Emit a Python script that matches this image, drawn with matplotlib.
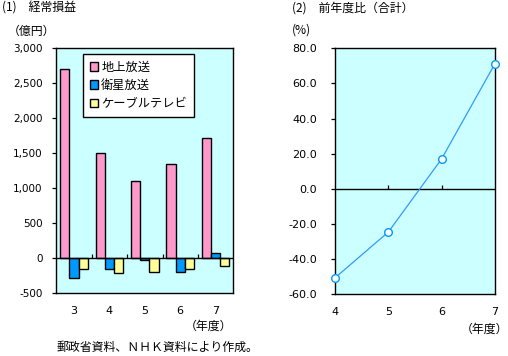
import numpy as np
import matplotlib
matplotlib.use("Agg")
import matplotlib.pyplot as plt

plt.rcParams['font.family'] = ['Noto Sans CJK JP', 'DejaVu Sans']

# (1) 経常損益（億円）
nendo = ["3", "4", "5", "6", "7"]
chijou = [2700, 1500, 1100, 1340, 1710]
eisei = [-280, -160, -30, -200, 70]
cable = [-160, -220, -200, -160, -120]
series_names = ["地上放送", "衛星放送", "ケーブルテレビ"]
y1_ticks = [-500, 0, 500, 1000, 1500, 2000, 2500, 3000]

# (2) 前年度比（合計, %）
nendo2 = [4, 5, 6, 7]
zennendo = [-50.5, -24.5, 17.0, 71.0]
y2_ticks = [-60, -40, -20, 0, 20, 40, 60, 80]

colors = ["#ff99cc", "#0099ff", "#ffff99"]
bg = "#ccffff"
num_font = "DejaVu Sans"
jp_size = 8.6

fig = plt.figure(figsize=(5.08, 3.56), dpi=100)

# ---- 左：棒グラフ ----
ax1 = fig.add_axes([56.3 / 508, 1 - 293 / 356, 177 / 508, 245 / 356])
ax1.set_facecolor(bg)
x = np.arange(len(nendo))
w = 0.26
for i, (vals, name) in enumerate(zip([chijou, eisei, cable], series_names)):
    ax1.bar(x + (i - 1) * w, vals, width=w, color=colors[i], edgecolor="black",
            linewidth=1.0, label=name)
ax1.axhline(0, color="black", linewidth=1.0)
# 区切りの目盛り（ゼロ線上）
ax1.plot(x[:-1] + 0.5, np.zeros(len(x) - 1), ls="none", marker=2, ms=3,
         mew=0.9, color="black")
ax1.set_xlim(-0.5, len(nendo) - 0.5)
ax1.set_ylim(-500, 3000)
ax1.set_yticks(y1_ticks)
ax1.set_yticklabels([f"{v:,}" for v in y1_ticks], fontsize=7.5, family=num_font)
ax1.set_xticks(x)
ax1.set_xticklabels(nendo, fontsize=8, family=num_font)
ax1.tick_params(axis="x", length=0, pad=9)
ax1.tick_params(axis="y", length=3, width=0.9, pad=7)
for s in ax1.spines.values():
    s.set_linewidth(1.0)
leg = ax1.legend(loc="upper left", bbox_to_anchor=(0.15, 0.975), fontsize=8.8,
                 frameon=True, fancybox=False, edgecolor="black",
                 handlelength=0.7, handleheight=0.7, handletextpad=0.25,
                 borderpad=0.55, labelspacing=0.42, borderaxespad=0)
leg.get_frame().set_linewidth(1.0)
leg.get_frame().set_facecolor("white")
leg.get_frame().set_alpha(1)

fig.text(2 / 508, 1 - 8 / 356, "(1)　経常損益", fontsize=jp_size, va="center", ha="left")
fig.text(8 / 508, 1 - 31 / 356, "（億円）", fontsize=jp_size, va="center", ha="left")
fig.text(232 / 508, 1 - 326 / 356, "（年度）", fontsize=jp_size, va="center", ha="right")
fig.text(57 / 508, 1 - 347 / 356, "郵政省資料、ＮＨＫ資料により作成。", fontsize=jp_size,
         va="center", ha="left")

# ---- 右：折れ線 ----
ax2 = fig.add_axes([335.3 / 508, 1 - 294.3 / 356, 159.4 / 508, 246 / 356])
ax2.set_facecolor(bg)
ax2.axhline(0, color="black", linewidth=1.0)
ax2.plot(nendo2[1:-1], np.zeros(len(nendo2) - 2), ls="none", marker=2, ms=3,
         mew=0.9, color="black")
ax2.plot(nendo2, zennendo, color="#3399ff", linewidth=0.9, marker="o", ms=5.5,
         mfc="white", mec="#0099ff", mew=1.0, clip_on=False, zorder=3)
ax2.set_xlim(4, 7)
ax2.set_ylim(-60, 80)
ax2.set_yticks(y2_ticks)
ax2.set_yticklabels([f"{v:.1f}" for v in y2_ticks], fontsize=8, family=num_font)
ax2.set_xticks(nendo2)
ax2.set_xticklabels([str(v) for v in nendo2], fontsize=8, family=num_font)
ax2.tick_params(axis="x", length=0, pad=9)
ax2.tick_params(axis="y", length=3, width=0.9, pad=10)
for s in ax2.spines.values():
    s.set_linewidth(1.0)

fig.text(292 / 508, 1 - 8 / 356, "(2)　前年度比（合計）", fontsize=jp_size, va="center", ha="left")
fig.text(292 / 508, 1 - 30 / 356, "(%)", fontsize=jp_size, va="center", ha="left")
fig.text(508 / 508, 1 - 329 / 356, "（年度）", fontsize=jp_size, va="center", ha="right")

fig.savefig("out.png", dpi=100)
